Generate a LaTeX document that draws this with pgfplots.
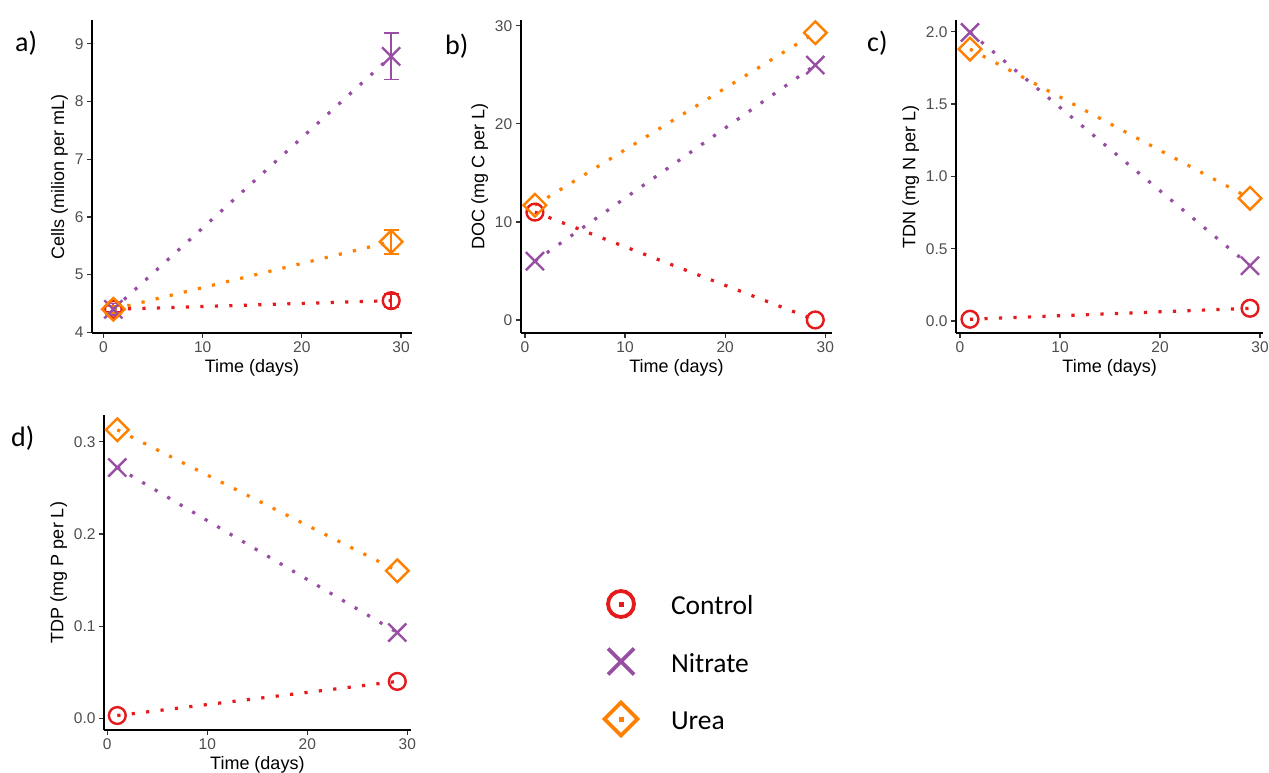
\documentclass[border=0pt]{standalone}
\usepackage{pgfplots}
\pgfplotsset{compat=1.18}
\usepackage{fontspec}
\setmainfont{Liberation Sans}
\newfontfamily\calibri{Carlito}

\definecolor{cCtrl}{HTML}{E41A1C}
\definecolor{cNitr}{HTML}{984EA3}
\definecolor{cUrea}{HTML}{FF7F00}
\definecolor{ticklab}{HTML}{4D4D4D}
\definecolor{tickcol}{HTML}{333333}

\pgfplotsset{
  panel/.style={
    scale only axis, clip=false,
    axis lines*=left,
    axis line style={-, black, line width=1.6pt},
    tick align=outside, major tick length=5pt,
    every tick/.style={tickcol, line width=1.2pt},
    tick label style={font=\fontsize{15.5}{18}\selectfont, text=ticklab},
    label style={font=\fontsize{18}{22}\selectfont},
    /pgf/number format/assume math mode=true,
    xtick={0,10,20,30}, minor tick num=0,
    xlabel={Time (days)},
  },
  series/.style={dash pattern=on 3.2pt off 11.3pt, line width=3.2pt, forget plot},
  sCtrl/.style={series, cCtrl, mark=o, mark size=8.4pt,
    mark options={solid, line width=2.4pt}},
  sNitr/.style={series, cNitr, mark=x, mark size=12.8pt,
    mark options={solid, line width=2.4pt}},
  sUrea/.style={series, cUrea, mark=square, mark size=8pt,
    mark options={solid, rotate=45, line width=2.4pt}},
  errs/.style={error bars/.cd, y dir=both, y explicit,
    error bar style={solid, line width=1.8pt},
    error mark options={solid, rotate=90, line width=1.8pt, mark size=7.5pt}},
  onedec/.style={yticklabel style={/pgf/number format/.cd, fixed, fixed zerofill, precision=1}},
}

\begin{document}
\begin{tikzpicture}[x=1pt,y=1pt]
\useasboundingbox (0,0) rectangle (1269,773);

% panel labels
\node[anchor=base west, inner sep=0pt, font=\calibri\fontsize{28}{32}\selectfont] at (15,721) {a)};
\node[anchor=base west, inner sep=0pt, font=\calibri\fontsize{28}{32}\selectfont] at (445,718) {b)};
\node[anchor=base west, inner sep=0pt, font=\calibri\fontsize{28}{32}\selectfont] at (867,721) {c)};
\node[anchor=base west, inner sep=0pt, font=\calibri\fontsize{28}{32}\selectfont] at (11,326) {d)};

% a) cell counts
\begin{axis}[panel, at={(92pt,440pt)}, anchor=south west, width=320pt, height=313pt,
  xmin=-1.15, xmax=31.1, ymin=3.99, ymax=9.41, ytick={4,5,6,7,8,9},
  ylabel={Cells (milion per mL)}]
\addplot[sCtrl, errs] coordinates {(1,4.40) +- (0,0.05) (29,4.55) +- (0,0.12)};
\addplot[sNitr, errs] coordinates {(1,4.40) +- (0,0.10) (29,8.78) +- (0,0.40)};
\addplot[sUrea, errs] coordinates {(1,4.40) +- (0,0.06) (29,5.57) +- (0,0.21)};
\end{axis}

% b) dissolved organic carbon
\begin{axis}[panel, at={(520.7pt,440pt)}, anchor=south west, width=311.6pt, height=313pt,
  xmin=-0.42, xmax=30.7, ymin=-1.33, ymax=30.6, ytick={0,10,20,30},
  ylabel={DOC (mg C per L)}]
\addplot[sCtrl] coordinates {(1,11.0) (29,0.0)};
\addplot[sNitr] coordinates {(1,6.0) (29,26.0)};
\addplot[sUrea] coordinates {(1,11.7) (29,29.3)};
\end{axis}

% c) total dissolved nitrogen
\begin{axis}[panel, onedec, at={(956pt,439.7pt)}, anchor=south west, width=307.3pt, height=313.3pt,
  xmin=-0.4, xmax=30.33, ymin=-0.085, ymax=2.081, ytick={0,0.5,1,1.5,2},
  ylabel={TDN (mg N per L)}]
\addplot[sCtrl] coordinates {(1,0.012) (29,0.088)};
\addplot[sNitr] coordinates {(1,1.995) (29,0.382)};
\addplot[sUrea] coordinates {(1,1.88) (29,0.848)};
\end{axis}

% d) total dissolved phosphorus, with the treatment key
\begin{axis}[panel, onedec, at={(104pt,43pt)}, anchor=south west, width=306.7pt, height=315pt,
  xmin=-0.33, xmax=30.34, ymin=-0.0127, ymax=0.329, ytick={0,0.1,0.2,0.3},
  ylabel={TDP (mg P per L)},
  legend style={at={(1.6205,0.4635)}, anchor=north west, draw=none, fill=none,
    inner sep=0pt, outer sep=0pt, row sep=17.5pt, cells={anchor=west},
    nodes={inner sep=0pt, text height=22pt, text depth=0pt,
      font=\calibri\fontsize{27.5}{32}\selectfont}}]
\addlegendimage{legend image code/.code={
  \path[draw=none, fill=none] (-20pt,-20pt) rectangle (50pt,20pt);
  \draw[cCtrl, solid, line width=3.8pt] (0pt,0pt) circle (13pt);
  \fill[cCtrl] (-2pt,-2pt) rectangle (2pt,2pt);}}
\addlegendentry{Control}
\addlegendimage{legend image code/.code={
  \path[draw=none, fill=none] (-20pt,-20pt) rectangle (50pt,20pt);
  \draw[cNitr, solid, line width=3.6pt] (-13pt,-13pt) -- (13pt,13pt) (-13pt,13pt) -- (13pt,-13pt);}}
\addlegendentry{Nitrate}
\addlegendimage{legend image code/.code={
  \path[draw=none, fill=none] (-20pt,-20pt) rectangle (50pt,20pt);
  \draw[cUrea, solid, line width=3.8pt] (0pt,16.5pt) -- (16.5pt,0pt) -- (0pt,-16.5pt) -- (-16.5pt,0pt) -- cycle;
  \fill[cUrea] (-2pt,-2pt) rectangle (2pt,2pt);}}
\addlegendentry{Urea}
\addplot[sCtrl] coordinates {(1,0.003) (29,0.040)};
\addplot[sNitr] coordinates {(1,0.272) (29,0.093)};
\addplot[sUrea] coordinates {(1,0.313) (29,0.160)};
\end{axis}
\end{tikzpicture}
\end{document}
